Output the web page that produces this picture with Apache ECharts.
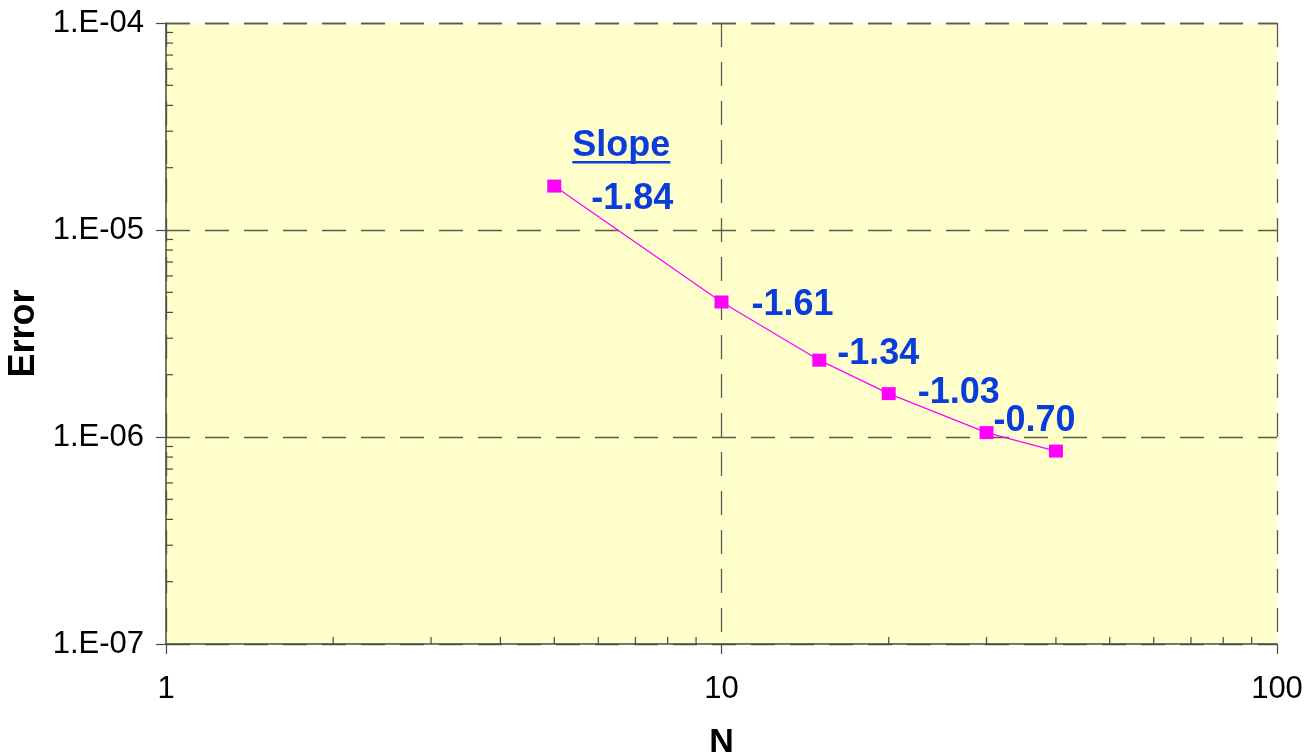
<!DOCTYPE html>
<html>
<head>
<meta charset="utf-8">
<script src="https://cdn.jsdelivr.net/npm/echarts@6/dist/echarts.min.js"></script>
<style>
  html, body { margin: 0; padding: 0; background: #ffffff; }
  #chart { width: 1308px; height: 755px; }
</style>
</head>
<body>
<div id="chart"></div>
<script>
// Convergence of the error with N (log-log)
const nValues = [5, 10, 15, 20, 30, 40];
const errorValues = [1.63e-5, 4.49e-6, 2.35e-6, 1.62e-6, 1.05e-6, 8.55e-7];
const slopeLabels = ['-1.84', '-1.61', '-1.34', '-1.03', '-0.70', ''];
const slopeHeader = 'Slope';
const xTickLabels = ['1', '10', '100'];
const yTickLabels = ['1.E-07', '1.E-06', '1.E-05', '1.E-04'];
const xMinorTicks = [2, 3, 4, 5, 6, 7, 8, 9, 20, 30, 40, 50, 60, 70, 80, 90];
const yMinorTicks = [
  2e-7, 3e-7, 4e-7, 5e-7, 6e-7, 7e-7, 8e-7, 9e-7,
  2e-6, 3e-6, 4e-6, 5e-6, 6e-6, 7e-6, 8e-6, 9e-6,
  2e-5, 3e-5, 4e-5, 5e-5, 6e-5, 7e-5, 8e-5, 9e-5
];

// label placement next to each point (pixels)
const labelOffsets = [[30, 13], [23, 3], [11, -6], [22, -1], [0, -12], [0, 0]];

const FONT = "'Liberation Sans', Arial, sans-serif";
const AXIS_COLOR = '#4a4a44';
const GRID_COLOR = '#5a5a4e';
const LABEL_BLUE = '#0a3cdc';
const MINOR_LEN = 7;

const chart = echarts.init(document.getElementById('chart'), null, { renderer: 'canvas' });

const lineData = nValues.map((n, i) => ({
  value: [n, errorValues[i]],
  label: {
    show: slopeLabels[i] !== '',
    formatter: slopeLabels[i],
    offset: labelOffsets[i]
  }
}));

const option = {
  animation: false,
  backgroundColor: '#ffffff',
  grid: {
    left: 166, top: 23, right: 31, bottom: 111,
    outerBoundsMode: 'none',
    containLabel: false,
    show: true, backgroundColor: '#ffffcc', borderWidth: 0
  },
  xAxis: {
    type: 'log', logBase: 10, min: 1, max: 100,
    name: 'N', nameLocation: 'middle', nameGap: 82,
    nameTextStyle: { fontFamily: FONT, fontWeight: 'bold', fontSize: 34, color: '#000' },
    axisLine: { show: true, lineStyle: { color: AXIS_COLOR, width: 1.5 } },
    axisTick: { show: true, inside: false, length: 10, lineStyle: { color: AXIS_COLOR, width: 1.2 } },
    axisLabel: {
      margin: 30, fontFamily: FONT, fontSize: 31, color: '#000',
      formatter: v => xTickLabels[Math.round(Math.log10(v))]
    },
    splitLine: { show: true, lineStyle: { color: GRID_COLOR, width: 1.3, type: [24, 15] } }
  },
  yAxis: {
    type: 'log', logBase: 10, min: 1e-7, max: 1e-4,
    name: 'Error', nameLocation: 'middle', nameGap: 121, nameRotate: 90,
    nameTextStyle: { fontFamily: FONT, fontWeight: 'bold', fontSize: 36, color: '#000' },
    axisLine: { show: true, lineStyle: { color: AXIS_COLOR, width: 1.5 } },
    axisTick: { show: true, inside: false, length: 10, lineStyle: { color: AXIS_COLOR, width: 1.2 } },
    axisLabel: {
      margin: 22, fontFamily: FONT, fontSize: 31, color: '#000',
      formatter: v => yTickLabels[Math.round(Math.log10(v)) + 7]
    },
    splitLine: { show: true, lineStyle: { color: GRID_COLOR, width: 1.3, type: [24, 15] } }
  },
  series: [
    {
      // minor ticks on the N axis, pointing into the plot
      type: 'custom',
      silent: true,
      z: 1,
      data: xMinorTicks.map(v => [v, 1e-7]),
      renderItem: (params, api) => {
        const p = api.coord([api.value(0), api.value(1)]);
        return {
          type: 'line',
          shape: { x1: p[0], y1: p[1], x2: p[0], y2: p[1] - MINOR_LEN },
          style: { stroke: AXIS_COLOR, lineWidth: 1.2 }
        };
      }
    },
    {
      // minor ticks on the Error axis, pointing into the plot
      type: 'custom',
      silent: true,
      z: 1,
      data: yMinorTicks.map(v => [1, v]),
      renderItem: (params, api) => {
        const p = api.coord([api.value(0), api.value(1)]);
        return {
          type: 'line',
          shape: { x1: p[0], y1: p[1], x2: p[0] + MINOR_LEN, y2: p[1] },
          style: { stroke: AXIS_COLOR, lineWidth: 1.2 }
        };
      }
    },
    {
      type: 'line',
      z: 3,
      data: lineData,
      lineStyle: { color: '#ff00ff', width: 1.3 },
      symbol: 'rect',
      symbolSize: [14, 13],
      itemStyle: { color: '#ff00ff' },
      label: {
        show: true,
        position: 'right',
        distance: 0,
        fontFamily: FONT,
        fontWeight: 'bold',
        fontSize: 36,
        color: LABEL_BLUE
      }
    }
  ]
};

chart.setOption(option);

// underlined "Slope" header above the first point
const anchor = chart.convertToPixel({ seriesIndex: 2 }, [nValues[0], errorValues[0]]);
const headerFont = 'bold 36px ' + FONT;
const headerX = anchor[0] + 18;
const headerBaseline = anchor[1] - 29;
const headerWidth = echarts.format.getTextRect
  ? echarts.format.getTextRect(slopeHeader, headerFont).width
  : 100;
chart.setOption({
  graphic: [
    {
      type: 'text',
      z: 10,
      style: {
        x: headerX, y: headerBaseline - 11,
        text: slopeHeader,
        font: headerFont,
        fill: LABEL_BLUE,
        verticalAlign: 'middle',
        align: 'left'
      }
    },
    {
      type: 'rect',
      z: 10,
      shape: { x: headerX, y: headerBaseline + 4, width: headerWidth, height: 2.5 },
      style: { fill: LABEL_BLUE }
    }
  ]
});
</script>
</body>
</html>
